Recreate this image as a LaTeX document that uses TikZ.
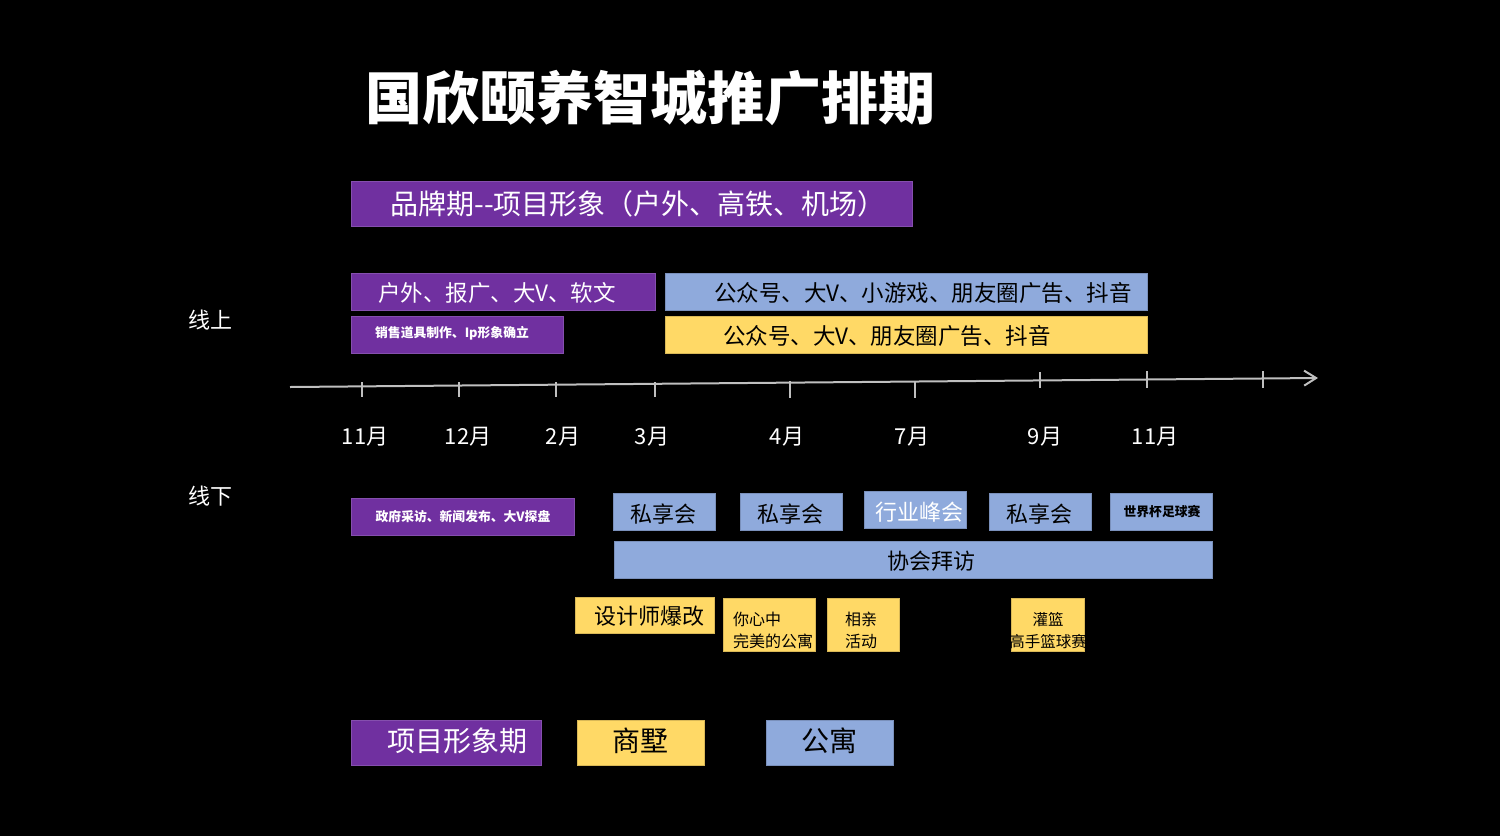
\documentclass[tikz,border=0pt]{standalone}
\usepackage{fontspec}
\setmainfont{Noto Sans CJK SC}
\usetikzlibrary{arrows.meta}
\definecolor{ppl}{HTML}{7030A0}
\definecolor{blu}{HTML}{8FAADC}
\definecolor{ylw}{HTML}{FFD966}
\definecolor{axisgray}{HTML}{BFBFBF}
\newcommand\rbox[6]{%
  \node[boxbase,#6,minimum width={(#4-#2)*1pt},minimum height={(#5-#3)*1pt},anchor=north west] (#1) at (#2,#3) {};}
\tikzset{
  boxbase/.style={rectangle,inner sep=0pt,outer sep=0pt,line width=0.6pt},
  pbox/.style={fill=ppl,draw=ppl!85!white},
  bbox/.style={fill=blu,draw=blu!85!black},
  ybox/.style={fill=ylw,draw=ylw!85!black},
  fsz/.style={font=\fontsize{#1}{#1}\selectfont},
  wtxt/.style={text=white,inner sep=0pt},
  ktxt/.style={text=black,inner sep=0pt},
  axis/.style={draw=axisgray,line width=2pt},
  tick/.style={draw=axisgray,line width=2pt},
}
\begin{document}
\begin{tikzpicture}[x=1pt,y=-1pt]
\fill[black] (0,0) rectangle (1500,836);
\useasboundingbox (0,0) rectangle (1500,836);

% title
\node[wtxt,font=\fontsize{57}{57}\selectfont\bfseries] (title) at (650,98) {国欣颐养智城推广排期};

% brand band
\rbox{brand}{351}{181}{912}{226}{pbox}
\node[wtxt,fsz=28] (brandT) at (638,203.5) {品牌期-{}-项目形象（户外、高铁、机场）};

% online rows
\rbox{on1}{351}{273}{655}{310}{pbox}
\node[wtxt,fsz=22.5] (on1T) at (497,293) {户外、报广、大V、软文};
\rbox{on2}{665}{273}{1147}{310}{bbox}
\node[ktxt,fsz=22.5] (on2T) at (923,293) {公众号、大V、小游戏、朋友圈广告、抖音};
\rbox{on3}{351}{316}{563}{353}{pbox}
\node[wtxt,font=\fontsize{12.8}{12.8}\selectfont\bfseries] (on3T) at (452,333.5) {销售道具制作、Ip形象确立};
\rbox{on4}{665}{316}{1147}{353}{ybox}
\node[ktxt,fsz=22.5] (on4T) at (887,336) {公众号、大V、朋友圈广告、抖音};

% side labels
\node[wtxt,fsz=22] (up) at (210,320) {线上};
\node[wtxt,fsz=22] (down) at (210,496) {线下};

% axis
\coordinate (a0) at (290,387);
\coordinate (a1) at (1318,378);
\draw[axis,-{Straight Barb[length=12pt,width=15pt,line width=2pt]}] (a0) -- (a1);
\draw[tick] (362,382) -- (362,397);
\draw[tick] (459,382) -- (459,397);
\draw[tick] (556,382) -- (556,397);
\draw[tick] (655,382) -- (655,397);
\draw[tick] (790,381) -- (790,398);
\draw[tick] (915,381) -- (915,398);
\draw[tick] (1040,372) -- (1040,388);
\draw[tick] (1147,371) -- (1147,388);
\draw[tick] (1263,371) -- (1263,388);

\node[wtxt,fsz=22] (m1) at (365,436.5) {11月};
\node[wtxt,fsz=22] (m2) at (468,436.5) {12月};
\node[wtxt,fsz=22] (m3) at (563,436.5) {2月};
\node[wtxt,fsz=22] (m4) at (652,436.5) {3月};
\node[wtxt,fsz=22] (m5) at (787,436.5) {4月};
\node[wtxt,fsz=22] (m6) at (912,436.5) {7月};
\node[wtxt,fsz=22] (m7) at (1045,436.5) {9月};
\node[wtxt,fsz=22] (m8) at (1155,436.5) {11月};

% offline
\rbox{off1}{351}{498}{574}{535}{pbox}
\node[wtxt,font=\fontsize{12.8}{12.8}\selectfont\bfseries] (off1T) at (463,516.5) {政府采访、新闻发布、大V探盘};
\rbox{s1}{613}{493}{715}{530}{bbox}
\node[ktxt,fsz=22] (s1T) at (663,514) {私享会};
\rbox{s2}{740}{493}{842}{530}{bbox}
\node[ktxt,fsz=22] (s2T) at (790,514) {私享会};
\rbox{hy}{864}{491}{966}{528}{bbox}
\node[wtxt,fsz=22] (hyT) at (919,512) {行业峰会};
\rbox{s3}{989}{493}{1091}{530}{bbox}
\node[ktxt,fsz=22] (s3T) at (1039,514) {私享会};
\rbox{wc}{1110}{493}{1212}{530}{bbox}
\node[ktxt,font=\fontsize{12.8}{12.8}\selectfont\bfseries] (wcT) at (1162,511.5) {世界杯足球赛};
\rbox{xh}{614}{541}{1212}{578}{bbox}
\node[ktxt,fsz=22] (xhT) at (931,561) {协会拜访};
\rbox{sj}{575}{597}{714}{633}{ybox}
\node[ktxt,fsz=22] (sjT) at (649,616.5) {设计师爆改};
\rbox{nx}{723}{598}{815}{651}{ybox}
\node[ktxt,font=\fontsize{16}{22}\selectfont,align=left,anchor=west] (nxT) at (733,630.5) {你心中\\完美的公寓};
\rbox{xq}{827}{598}{899}{651}{ybox}
\node[ktxt,font=\fontsize{16}{22}\selectfont,align=left,anchor=west] (xqT) at (845,630.5) {相亲\\活动};
\rbox{gl}{1011}{598}{1084}{651}{ybox}
\node[ktxt,font=\fontsize{15.5}{22}\selectfont,align=center] (glT) at (1048,630.5) {灌篮\\高手篮球赛};

% legend
\rbox{lg1}{351}{720}{541}{765}{pbox}
\node[wtxt,fsz=28] (lg1T) at (457,741) {项目形象期};
\rbox{lg2}{577}{720}{704}{765}{ybox}
\node[ktxt,fsz=28] (lg2T) at (640,741) {商墅};
\rbox{lg3}{766}{720}{893}{765}{bbox}
\node[ktxt,fsz=28] (lg3T) at (829,741) {公寓};
\end{tikzpicture}
\end{document}
